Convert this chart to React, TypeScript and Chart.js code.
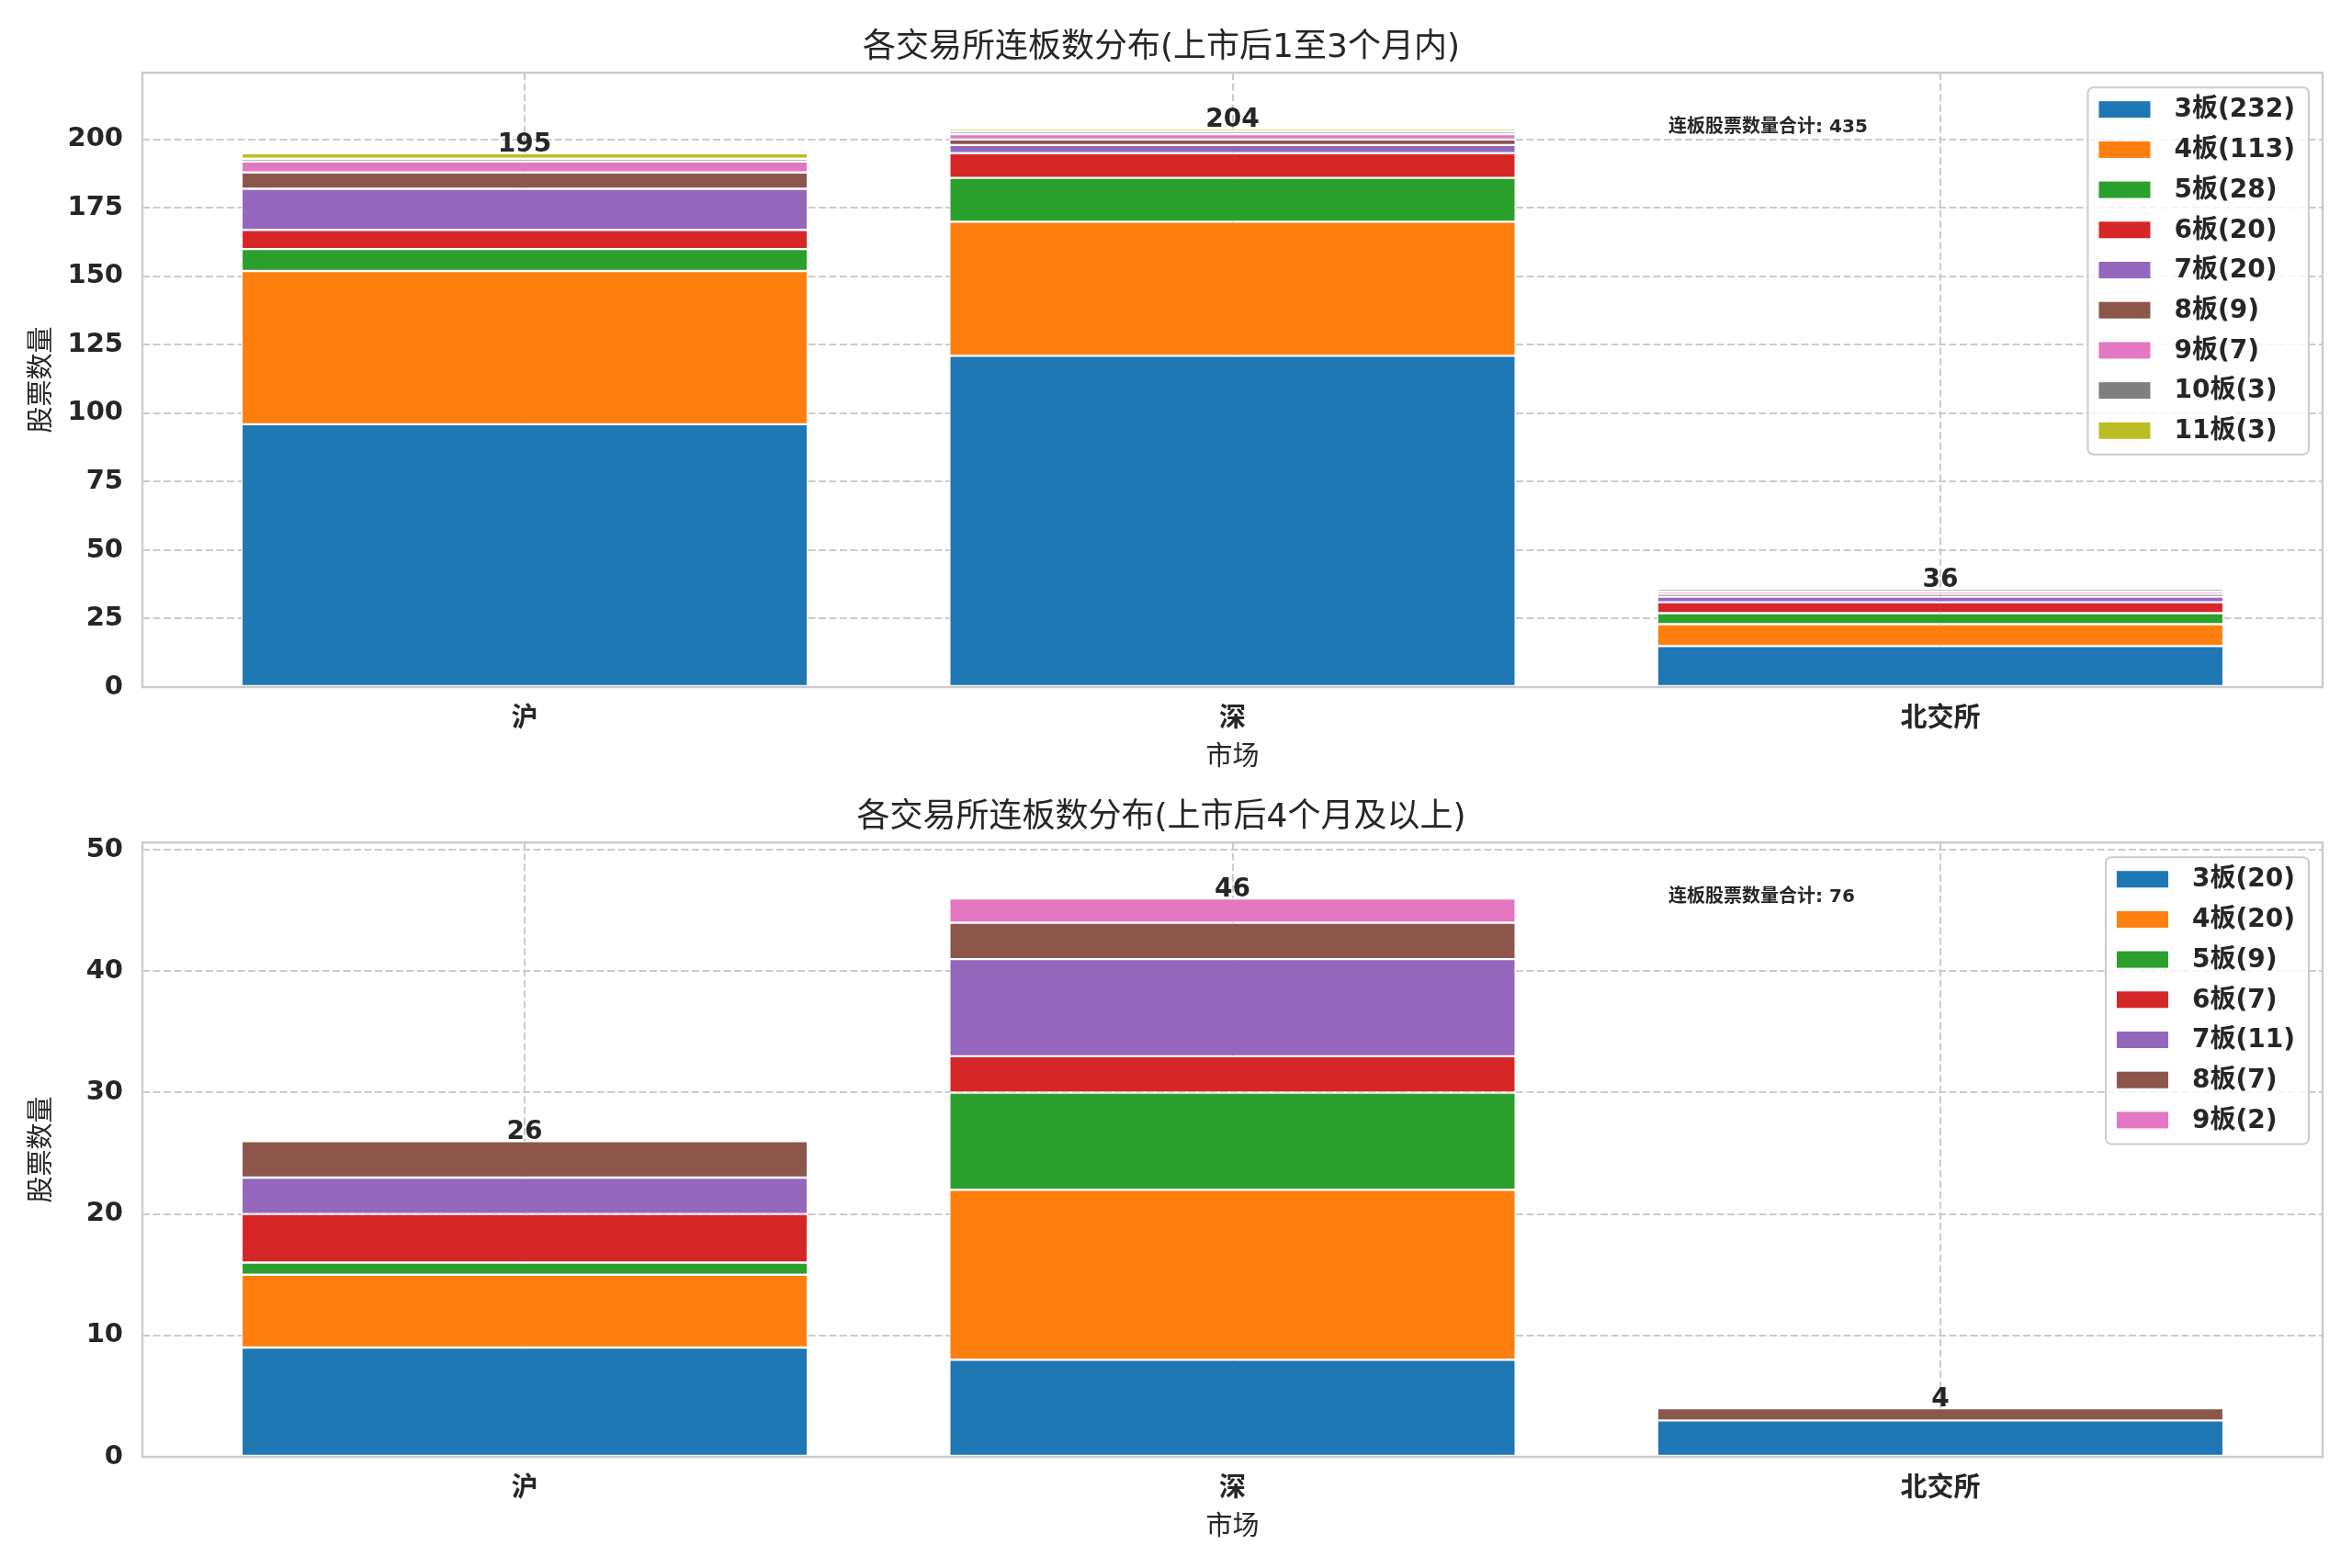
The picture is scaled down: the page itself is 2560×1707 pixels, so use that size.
import { useEffect, useRef } from 'react';
import { Chart, registerables } from 'chart.js';
import type { Plugin } from 'chart.js';

Chart.register(...registerables);

const markets = ['沪', '深', '北交所'];
const boardColors = ['#1f77b4', '#ff7f0e', '#2ca02c', '#d62728', '#9467bd', '#8c564b', '#e377c2', '#7f7f7f', '#bcbd22'];

// 上市后1至3个月内, 每个数组对应 沪 / 深 / 北交所
const earlyBoards = [3, 4, 5, 6, 7, 8, 9, 10, 11];
const early3 = [96, 121, 15];
const early4 = [56, 49, 8];
const early5 = [8, 16, 4];
const early6 = [7, 9, 4];
const early7 = [15, 3, 2];
const early8 = [6, 2, 1];
const early9 = [4, 2, 1];
const early10 = [1, 1, 1];
const early11 = [2, 1, 0];

// 上市后4个月及以上
const lateBoards = [3, 4, 5, 6, 7, 8, 9];
const late3 = [9, 8, 3];
const late4 = [6, 14, 0];
const late5 = [1, 8, 0];
const late6 = [4, 3, 0];
const late7 = [3, 8, 0];
const late8 = [3, 3, 1];
const late9 = [0, 2, 0];

const earlySeries = [early3, early4, early5, early6, early7, early8, early9, early10, early11];
const lateSeries = [late3, late4, late5, late6, late7, late8, late9];

const FONT = '"DejaVu Sans", "Noto Sans CJK SC", sans-serif';
const TEXT = '#262626';
const GRID = '#cccccc';

interface StackChartProps {
  title: string;
  boards: number[];
  series: number[][];
}

function StackChart({ title, boards, series }: StackChartProps) {
  const canvasRef = useRef<HTMLCanvasElement>(null);

  useEffect(() => {
    if (!canvasRef.current) return;

    const totals = markets.map((_, i) => series.reduce((s, arr) => s + arr[i], 0));
    const grand = totals.reduce((a, b) => a + b, 0);
    const yMax = Math.max(...totals) * 1.1;
    const yStep = yMax > 100 ? 25 : 10;

    const datasets = series.map((values, k) => ({
      label: `${boards[k]}板(${values.reduce((a, b) => a + b, 0)})`,
      data: values.map((v, i) => ({ x: i, y: v === 0 ? null : v })),
      backgroundColor: boardColors[k],
      borderColor: '#ffffff',
      borderWidth: 1.2,
      borderSkipped: false,
      barPercentage: 0.8,
      categoryPercentage: 1,
    }));

    // 总数标签、边框、注释和图例
    const overlay: Plugin<'bar'> = {
      id: 'overlay',
      afterDatasetsDraw(chart) {
        const { ctx, chartArea: a, scales } = chart;
        ctx.save();
        ctx.fillStyle = TEXT;
        ctx.font = `bold 28px ${FONT}`;
        ctx.textAlign = 'center';
        ctx.textBaseline = 'alphabetic';
        totals.forEach((t, i) => {
          ctx.fillText(String(t), scales.x.getPixelForValue(i), scales.y.getPixelForValue(t) - 2);
        });

        ctx.strokeStyle = GRID;
        ctx.lineWidth = 2.5;
        ctx.strokeRect(a.left, a.top, a.right - a.left, a.bottom - a.top);

        ctx.font = `bold 20px ${FONT}`;
        ctx.textAlign = 'left';
        ctx.textBaseline = 'middle';
        ctx.fillText(`连板股票数量合计: ${grand}`, a.left + 0.7 * (a.right - a.left), a.top + 0.089 * (a.bottom - a.top));
        ctx.restore();
      },
      afterDraw(chart) {
        const { ctx, chartArea: a } = chart;
        const rowH = 43.7;
        ctx.save();
        ctx.font = `bold 28px ${FONT}`;
        const labels = chart.data.datasets.map((d) => String(d.label));
        const textW = Math.max(...labels.map((l) => ctx.measureText(l).width));
        const w = 94 + textW + 15;
        const h = 24 + (labels.length - 1) * rowH + 26;
        const left = a.right - 15 - w;
        const top = a.top + 16;

        ctx.fillStyle = 'rgba(255,255,255,0.8)';
        ctx.strokeStyle = GRID;
        ctx.lineWidth = 2;
        ctx.beginPath();
        ctx.roundRect(left, top, w, h, 6);
        ctx.fill();
        ctx.stroke();

        ctx.textAlign = 'left';
        ctx.textBaseline = 'middle';
        labels.forEach((l, k) => {
          const cy = top + 24 + k * rowH;
          ctx.fillStyle = boardColors[k];
          ctx.fillRect(left + 12, cy - 9, 56, 18);
          ctx.fillStyle = TEXT;
          ctx.fillText(l, left + 94, cy + 1);
        });
        ctx.restore();
      },
    };

    const chart = new Chart(canvasRef.current, {
      type: 'bar',
      data: { datasets },
      plugins: [overlay],
      options: {
        animation: false,
        responsive: true,
        maintainAspectRatio: false,
        devicePixelRatio: 1,
        layout: { padding: { left: 0, right: 32, top: 0, bottom: 0 } },
        plugins: {
          legend: { display: false },
          tooltip: { enabled: false },
          title: {
            display: true,
            text: title,
            color: TEXT,
            font: { family: FONT, size: 36, weight: 'normal' },
            padding: { top: 31, bottom: 5 },
          },
        },
        scales: {
          x: {
            type: 'linear',
            min: -0.54,
            max: 2.54,
            offset: false,
            stacked: true,
            afterBuildTicks: (s) => {
              s.ticks = markets.map((_, i) => ({ value: i }));
            },
            afterFit: (s) => {
              s.height = 90;
            },
            ticks: {
              callback: (v) => markets[Number(v)],
              color: TEXT,
              font: { family: FONT, size: 29, weight: 'bold' },
              padding: 18,
              maxRotation: 0,
            },
            grid: { color: GRID, lineWidth: 2, drawTicks: false, offset: false },
            border: { display: false, dash: [8, 3.5] },
            title: {
              display: true,
              text: '市场',
              color: TEXT,
              font: { family: FONT, size: 29, weight: 'normal' },
              padding: { top: 0, bottom: -5 },
            },
          },
          y: {
            stacked: true,
            min: 0,
            max: yMax,
            afterBuildTicks: (s) => {
              const ticks = [];
              for (let v = 0; v <= yMax; v += yStep) ticks.push({ value: v });
              s.ticks = ticks;
            },
            afterFit: (s) => {
              s.width = 155;
            },
            ticks: {
              color: TEXT,
              font: { family: FONT, size: 29, weight: 'bold' },
              padding: 21,
            },
            grid: { color: GRID, lineWidth: 2, drawTicks: false },
            border: { display: false, dash: [8, 3.5] },
            title: {
              display: true,
              text: '股票数量',
              color: TEXT,
              font: { family: FONT, size: 29, weight: 'normal' },
              padding: { top: 29, bottom: 0 },
            },
          },
        },
      },
    });

    return () => {
      chart.destroy();
    };
  }, [title, boards, series]);

  return (
    <div style={{ position: 'relative', width: 2560, height: 838 }}>
      <canvas ref={canvasRef} />
    </div>
  );
}

export default function App() {
  return (
    <div style={{ position: 'absolute', left: 0, top: 0, width: 2560, height: 1707, background: '#ffffff' }}>
      <StackChart title="各交易所连板数分布(上市后1至3个月内)" boards={earlyBoards} series={earlySeries} />
      <StackChart title="各交易所连板数分布(上市后4个月及以上)" boards={lateBoards} series={lateSeries} />
    </div>
  );
}
